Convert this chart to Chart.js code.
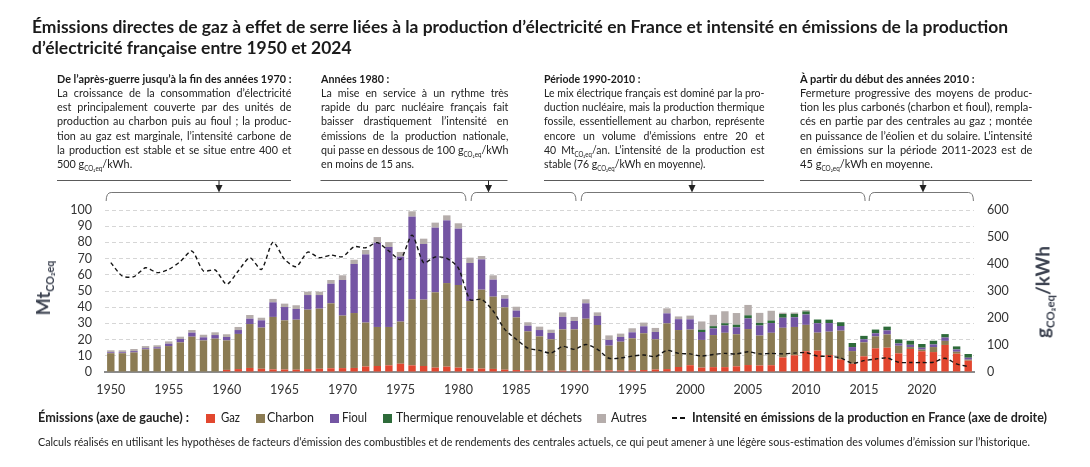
<!DOCTYPE html>
<html lang="fr">
<head>
<meta charset="utf-8">
<script src="https://cdn.jsdelivr.net/npm/chart.js@4.4.1/dist/chart.umd.min.js"></script>
<style>
html,body{margin:0;padding:0;background:#fff;}
body{width:1090px;height:467px;position:relative;overflow:hidden;font-family:Lato,"Open Sans",sans-serif;color:#222;}
#wrap{position:absolute;left:0;top:0;width:1090px;height:467px;}
.abs{position:absolute;white-space:nowrap;transform-origin:0 0;}
.title{font-weight:700;font-size:16.5px;line-height:21px;color:#1b1b1b;}
.ann{position:absolute;font-size:12px;line-height:14.3px;transform-origin:0 0;color:#222;white-space:nowrap;}
.ann .ln{text-align:justify;text-align-last:justify;}
.ann .ln.l{text-align-last:left;}
.ann .hd{font-weight:700;color:#1b1b1b;}
sub{font-size:0.58em;vertical-align:-0.4em;line-height:0;}
.leg{font-size:12.5px;line-height:16px;color:#222;}
.sq{position:absolute;width:9px;height:9px;}
.axt{position:absolute;font-weight:700;color:#3c4250;white-space:nowrap;transform:translate(-50%,-50%) rotate(-90deg);}
.foot{font-size:11px;line-height:14px;color:#222;}
</style>
</head>
<body>
<div id="wrap"><canvas id="c"></canvas></div>

<div class="abs title" id="t1" style="left:32px;top:16.5px">Émissions directes de gaz à effet de serre liées à la production d’électricité en France et intensité en émissions de la production</div>
<div class="abs title" id="t2" style="left:32px;top:38px">d’électricité française entre 1950 et 2024</div>

<div class="ann" id="a1" style="left:57px;top:71.5px" data-w="234">
<div class="ln hd"><span>De l’après-guerre jusqu’à la fin des années 1970 :</span></div>
<div class="ln"><span>La croissance de la consommation d’électricité</span></div>
<div class="ln"><span>est principalement couverte par des unités de</span></div>
<div class="ln"><span>production au charbon puis au fioul ; la produc-</span></div>
<div class="ln"><span>tion au gaz est marginale, l’intensité carbone de</span></div>
<div class="ln"><span>la production est stable et se situe entre 400 et</span></div>
<div class="ln l"><span>500 g<sub>CO₂eq</sub>/kWh.</span></div>
</div>

<div class="ann" id="a2" style="left:320.5px;top:71.5px" data-w="187">
<div class="ln l hd"><span>Années 1980 :</span></div>
<div class="ln"><span>La mise en service à un rythme très</span></div>
<div class="ln"><span>rapide du parc nucléaire français fait</span></div>
<div class="ln"><span>baisser drastiquement l’intensité en</span></div>
<div class="ln"><span>émissions de la production nationale,</span></div>
<div class="ln"><span>qui passe en dessous de 100 g<sub>CO₂eq</sub>/kWh</span></div>
<div class="ln l"><span>en moins de 15 ans.</span></div>
</div>

<div class="ann" id="a3" style="left:544px;top:71.5px" data-w="220">
<div class="ln l hd"><span>Période 1990-2010 :</span></div>
<div class="ln"><span>Le mix électrique français est dominé par la pro-</span></div>
<div class="ln"><span>duction nucléaire, mais la production thermique</span></div>
<div class="ln"><span>fossile, essentiellement au charbon, représente</span></div>
<div class="ln"><span>encore un volume d’émissions entre 20 et</span></div>
<div class="ln"><span>40 Mt<sub>CO₂eq</sub>/an. L’intensité de la production est</span></div>
<div class="ln l"><span>stable (76 g<sub>CO₂eq</sub>/kWh en moyenne).</span></div>
</div>

<div class="ann" id="a4" style="left:800px;top:71.5px" data-w="232">
<div class="ln l hd"><span>À partir du début des années 2010 :</span></div>
<div class="ln"><span>Fermeture progressive des moyens de produc-</span></div>
<div class="ln"><span>tion les plus carbonés (charbon et fioul), rempla-</span></div>
<div class="ln"><span>cés en partie par des centrales au gaz ; montée</span></div>
<div class="ln"><span>en puissance de l’éolien et du solaire. L’intensité</span></div>
<div class="ln"><span>en émissions sur la période 2011-2023 est de</span></div>
<div class="ln l"><span>45 g<sub>CO₂eq</sub>/kWh en moyenne.</span></div>
</div>

<div class="axt" style="left:43px;top:288px;font-size:18px">Mt<sub style="font-size:0.6em">CO₂eq</sub></div>
<div class="axt" style="left:1042px;top:292px;font-size:19px">g<sub style="font-size:0.6em">CO₂eq</sub>/kWh</div>

<div class="abs leg fit" data-w="151" style="left:38px;top:410px;font-weight:700">Émissions (axe de gauche) :</div>
<div class="sq" style="left:206px;top:413.5px;background:#e2472f"></div>
<div class="abs leg fit" data-w="19" style="left:221px;top:410px">Gaz</div>
<div class="sq" style="left:256px;top:413.5px;background:#8b7b53"></div>
<div class="abs leg fit" data-w="47" style="left:267px;top:410px">Charbon</div>
<div class="sq" style="left:330px;top:413.5px;background:#7455a3"></div>
<div class="abs leg fit" data-w="25" style="left:342px;top:410px">Fioul</div>
<div class="sq" style="left:383px;top:413.5px;background:#2e6b3a"></div>
<div class="abs leg fit" data-w="186" style="left:396px;top:410px">Thermique renouvelable et déchets</div>
<div class="sq" style="left:597px;top:413.5px;background:#b5adab"></div>
<div class="abs leg fit" data-w="36" style="left:611px;top:410px">Autres</div>
<div style="position:absolute;left:672px;top:417px;width:5px;height:2px;background:#111"></div>
<div style="position:absolute;left:680px;top:417px;width:5px;height:2px;background:#111"></div>
<div class="abs leg fit" data-w="355" style="left:692px;top:410px;font-weight:700">Intensité en émissions de la production en France (axe de droite)</div>

<div class="abs foot fit" data-w="992" style="left:38px;top:435px">Calculs réalisés en utilisant les hypothèses de facteurs d’émission des combustibles et de rendements des centrales actuels, ce qui peut amener à une légère sous-estimation des volumes d’émission sur l’historique.</div>

<script>
const years = [1950,1951,1952,1953,1954,1955,1956,1957,1958,1959,
1960,1961,1962,1963,1964,1965,1966,1967,1968,1969,
1970,1971,1972,1973,1974,1975,1976,1977,1978,1979,
1980,1981,1982,1983,1984,1985,1986,1987,1988,1989,
1990,1991,1992,1993,1994,1995,1996,1997,1998,1999,
2000,2001,2002,2003,2004,2005,2006,2007,2008,2009,
2010,2011,2012,2013,2014,2015,2016,2017,2018,2019,
2020,2021,2022,2023,2024];

const tickYears = [1950,1955,1960,1965,1970,1975,1980,1985,1990,1995,2000,2005,2010,2015,2020];

const gaz = [0,0,0,0,0,0,0,0,0,0.3,
1.3,1.8,2.5,2.0,1.6,1.5,1.4,1.8,2.0,2.3,
2.4,2.5,3.4,3.7,4.1,5.1,4.1,3.7,2.7,3.3,
2.7,2.1,2.1,1.9,1.4,1.2,1.0,0.8,0.8,0.8,
0.8,0.9,0.8,1.0,1.0,1.0,1.2,1.5,1.8,3.1,
4.2,2.7,3.0,3.0,3.5,4.3,4.0,4.2,9.0,10.3,
12.8,13.2,10.5,7.8,5.1,9.7,14.6,15.0,11.5,14.2,
12.8,12.3,16.7,11.3,7.0];

const charbon = [11.6,11.6,12.1,14.0,14.4,16.0,18.3,21.8,19.5,20.3,
18.2,21.7,27.1,25.4,32.4,30.4,30.9,36.7,37.1,40.1,
32.4,33.9,27.1,24.1,23.7,26.0,40.8,41.0,46.5,51.6,
51.0,41.7,48.7,44.6,38.5,32.5,24.1,21.2,19.4,25.5,
25.5,32.0,28.2,15.3,17.7,19.8,22.7,18.7,28.2,22.8,
22.0,17.1,19.8,21.2,19.8,22.2,18.5,20.0,18.3,17.5,
16.3,11.1,14.4,17.7,7.8,8.6,7.4,8.2,4.7,1.2,
1.0,3.1,2.5,1.2,0.6];

const fioul = [0.6,0.6,0.8,0.7,0.9,1.5,2.1,2.5,1.9,2.2,
2.1,2.4,3.3,4.5,9.0,8.2,6.6,9.0,8.4,12.1,
22.0,30.3,42.1,52.0,49.4,40.1,51.0,34.3,39.9,38.7,
34.8,23.5,18.7,10.5,5.4,4.2,3.5,3.9,3.9,7.7,
5.2,9.5,5.6,3.5,2.9,3.7,4.3,4.5,6.2,6.7,
6.3,4.9,4.1,4.5,4.3,6.6,6.2,6.0,6.2,6.0,
6.4,5.8,5.3,2.9,2.5,1.9,1.9,2.5,1.4,1.4,
1.2,1.6,2.1,1.4,1.2];

const thermiqueRenouvelable = [0,0,0,0,0,0,0,0,0,0,
0,0,0,0,0,0,0,0,0,0,
0,0,0,0,0,0,0,0,0,0,
0,0,0,0,0,0,0,0,0,0,
0,0,0,0,0,0,0,0,0,0,
0,1.4,1.4,1.4,1.6,1.9,1.6,1.6,2.3,2.1,
1.9,2.3,2.1,2.3,2.5,2.1,2.3,2.3,2.5,2.5,
2.3,2.3,2.1,1.9,2.3];

const autres = [1.2,1.2,1.3,1.3,1.2,1.4,1.4,1.6,1.6,1.7,
1.7,1.9,2.3,1.6,2.1,2.1,2.3,2.1,2.1,2.3,
2.9,2.6,2.7,3.5,3.0,2.9,3.3,3.3,3.1,3.1,
3.3,3.3,2.1,2.7,2.2,2.4,2.1,2.1,2.0,2.8,
2.5,2.5,2.2,2.8,2.1,2.5,2.3,2.5,3.1,1.7,
2.3,5.1,7.0,7.4,7.2,6.4,6.2,6.0,0.8,0.8,
0.8,0,0,0,0,0,0,0,0,0,
0,0,0,0,0];

const intensite = [405,355,353,386,368,380,409,448,374,378,
325,374,423,380,481,417,390,444,423,433,
427,464,460,479,448,417,507,405,426,421,
385,268,269,226,158,121,88,80,70,95,
84,102,84,51,52,59,63,57,80,69,
67,59,65,69,67,75,67,69,67,70,
72,59,58,52,32,42,48,52,36,35,
35,36,51,30,20];

const leftTicks = {min:0, max:100, step:10};
const rightTicks = {min:0, max:600, step:100};

const annBlocks = [
  {x0:57, x1:291, ax:219},
  {x0:320.5, x1:507.5, ax:488.5},
  {x0:544, x1:764, ax:692},
  {x0:800, x1:1032, ax:923}
];
const bracketYears = [[1949.6,1980.65],[1981.1,1990.15],[1990.6,2015.1],[2015.45,2024.45]];

const decor = {
  id:'decor',
  afterDraw(chart){
    const ctx = chart.ctx, xs = chart.scales.x;
    const step = xs.getPixelForValue(1) - xs.getPixelForValue(0);
    const px = y => xs.getPixelForValue(0) + (y - years[0]) * step;
    ctx.save();
    ctx.lineWidth = 1;
    for (const a of annBlocks){
      ctx.strokeStyle = '#5a5a5a';
      ctx.beginPath(); ctx.moveTo(a.x0, 180.5); ctx.lineTo(a.x1, 180.5); ctx.stroke();
      ctx.strokeStyle = '#222';
      ctx.beginPath(); ctx.moveTo(a.ax, 180.5); ctx.lineTo(a.ax, 186); ctx.stroke();
      ctx.fillStyle = '#222';
      ctx.beginPath(); ctx.moveTo(a.ax - 3.5, 185); ctx.lineTo(a.ax + 3.5, 185); ctx.lineTo(a.ax, 192.5); ctx.closePath(); ctx.fill();
    }
    ctx.strokeStyle = '#777';
    for (const [a, b] of bracketYears){
      const x0 = px(a), x1 = px(b), yt = 192.5, yb = 201, r = 5;
      ctx.beginPath();
      ctx.moveTo(x0, yb);
      ctx.quadraticCurveTo(x0, yt, x0 + r, yt);
      ctx.lineTo(x1 - r, yt);
      ctx.quadraticCurveTo(x1, yt, x1, yb);
      ctx.stroke();
    }
    ctx.restore();
  }
};

Chart.defaults.font.family = 'Lato, "Open Sans", sans-serif';
Chart.defaults.font.size = 12.5;
Chart.defaults.color = '#333';

const barCommon = {type:'bar', order:1, barPercentage:0.64, categoryPercentage:1, borderWidth:0, yAxisID:'y', stack:'s'};

new Chart(document.getElementById('c'), {
  data: {
    labels: years,
    datasets: [
      {...barCommon, label:'Gaz', data:gaz, backgroundColor:'#e2472f'},
      {...barCommon, label:'Charbon', data:charbon, backgroundColor:'#8b7b53'},
      {...barCommon, label:'Fioul', data:fioul, backgroundColor:'#7455a3'},
      {...barCommon, label:'Thermique renouvelable et déchets', data:thermiqueRenouvelable, backgroundColor:'#2e6b3a'},
      {...barCommon, label:'Autres', data:autres, backgroundColor:'#b5adab'},
      {type:'line', order:0, label:'Intensité', data:intensite, yAxisID:'y1', borderColor:'#151515', borderWidth:1.4, borderDash:[4,3], pointRadius:0, tension:0.25, fill:false}
    ]
  },
  options: {
    responsive:true, maintainAspectRatio:false, animation:false,
    layout:{padding:{top:210, bottom:67, left:0, right:0}},
    plugins:{legend:{display:false}, tooltip:{enabled:false}},
    scales:{
      x:{
        stacked:true, offset:true,
        grid:{display:true, drawOnChartArea:false, drawTicks:false, color:'rgba(0,0,0,0)'},
        border:{display:true, color:'#8c8c8c', width:2},
        ticks:{autoSkip:false, maxRotation:0, minRotation:0, padding:10, color:'#333', font:{size:12.5},
          callback:function(v, i){ return tickYears.includes(years[i]) ? String(years[i]) : ''; }},
        afterFit:s => { s.height = 28; }
      },
      y:{
        position:'left', stacked:true, min:leftTicks.min, max:leftTicks.max,
        ticks:{stepSize:leftTicks.step, autoSkip:false, padding:13, color:'#333', font:{size:12.5}},
        grid:{color:'#d6d6d6', lineWidth:1, drawTicks:false},
        border:{display:false, dash:[4,3]},
        afterFit:s => { s.width = 105; }
      },
      y1:{
        position:'right', stacked:false, min:rightTicks.min, max:rightTicks.max,
        ticks:{stepSize:rightTicks.step, autoSkip:false, padding:13, color:'#333', font:{size:12.5}},
        grid:{display:false, drawTicks:false},
        border:{display:false},
        afterFit:s => { s.width = 116; }
      }
    }
  },
  plugins:[decor]
});

function fitText(){
  const t1 = document.getElementById('t1'), t2 = document.getElementById('t2');
  const s = 976 / t1.getBoundingClientRect().width;
  t1.style.transform = `scaleX(${s})`;
  t2.style.transform = `scaleX(${s})`;
  document.querySelectorAll('.fit').forEach(el => {
    const w = parseFloat(el.dataset.w);
    const n = el.getBoundingClientRect().width;
    el.style.transform = `scaleX(${w / n})`;
  });
  document.querySelectorAll('.ann').forEach(el => {
    const w = parseFloat(el.dataset.w);
    let m = 0;
    el.querySelectorAll('.ln span').forEach(sp => { m = Math.max(m, sp.getBoundingClientRect().width); });
    const k = w / m;
    el.style.width = (w / k + 0.5) + 'px';
    el.style.whiteSpace = 'normal';
    el.style.transform = `scaleX(${k})`;
  });
}
if (document.fonts && document.fonts.ready) { document.fonts.ready.then(fitText); } else { fitText(); }
</script>
</body>
</html>
